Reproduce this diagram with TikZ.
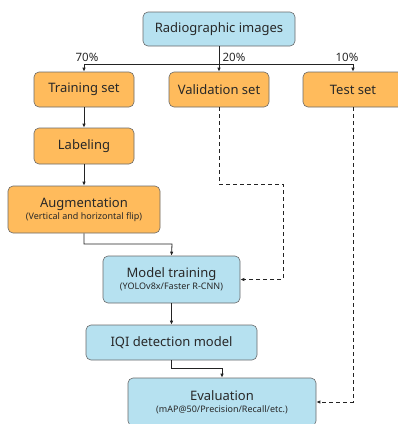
\documentclass[tikz,border=0pt]{standalone}
\usepackage{fontspec}
\setmainfont{Noto Sans}
\usetikzlibrary{arrows.meta}
\definecolor{boxblue}{RGB}{182,225,240}
\definecolor{boxorange}{RGB}{255,187,92}
\definecolor{edgegray}{RGB}{105,105,105}
\definecolor{linedark}{RGB}{35,35,35}
\definecolor{textdark}{RGB}{40,40,40}
\tikzset{
 stage/.style={draw=edgegray,line width=0.6pt,rounded corners=5pt,align=center,inner sep=1pt,text=textdark},
 bluebox/.style={stage,fill=boxblue},
 orangebox/.style={stage,fill=boxorange},
 flow/.style={draw=linedark,line width=0.8pt,-{Latex[length=4pt,width=3.5pt]}},
 dflow/.style={flow,dashed,dash pattern=on 4pt off 3pt},
 small/.style={font=\fontsize{9.5}{11}\selectfont},
 share/.style={font=\fontsize{11.5}{12}\selectfont,text=textdark,inner sep=1pt}
}
\begin{document}
\begin{tikzpicture}[font=\fontsize{13}{14}\selectfont,x=1pt,y=-1pt]
\useasboundingbox (0,0) rectangle (398,424);
\node[bluebox,minimum width=152pt,minimum height=34pt] (root) at (219,29) {Radiographic images};
\node[orangebox,minimum width=100pt,minimum height=35pt] (train) at (84,89.5) {Training set};
\node[orangebox,minimum width=100pt,minimum height=35pt] (valid) at (219,89.5) {Validation set};
\node[orangebox,minimum width=100pt,minimum height=35pt] (test) at (353,89.5) {Test set};
\node[orangebox,minimum width=100pt,minimum height=36pt] (label) at (84,146) {Labeling};
\node[orangebox,minimum width=152pt,minimum height=47pt] (aug) at (84,209.5) {Augmentation\\[-2pt]{\small (Vertical and horizontal flip)}};
\node[bluebox,minimum width=137pt,minimum height=47pt] (mtrain) at (171.5,279.5) {Model training\\[-2pt]{\small (YOLOv8x/Faster R-CNN)}};
\node[bluebox,minimum width=171pt,minimum height=35pt] (iqi) at (171.5,342.5) {IQI detection model};
\node[bluebox,minimum width=188pt,minimum height=48pt] (eval) at (222,402) {Evaluation\\[-2pt]{\small (mAP@50/Precision/Recall/etc.)}};
% split of the data set
\coordinate (split) at (219,64);
\draw[draw=linedark,line width=0.8pt] (root.south) -- (split) (train.north |- split) -- (test.north |- split);
\foreach \n in {train,valid,test}{
 \draw[flow] (\n.north |- split) -- (\n.north);
}
\node[share] (p70) at (87,57) {70\%};
\node[share] (p20) at (234,57) {20\%};
\node[share] (p10) at (347,57) {10\%};
% training branch
\draw[flow] (train) -- (label);
\draw[flow] (label) -- (aug);
\draw[flow] (aug.south) |- (172,244) -- (mtrain.north);
\draw[flow] (mtrain) -- (iqi);
\draw[flow] (iqi.south) |- (222,368.5) -- (eval.north);
% validation and test
\draw[dflow] (valid.south) |- (283,184) |- (mtrain.east);
\draw[dflow] (test.south) |- (eval.east);
\end{tikzpicture}
\end{document}
